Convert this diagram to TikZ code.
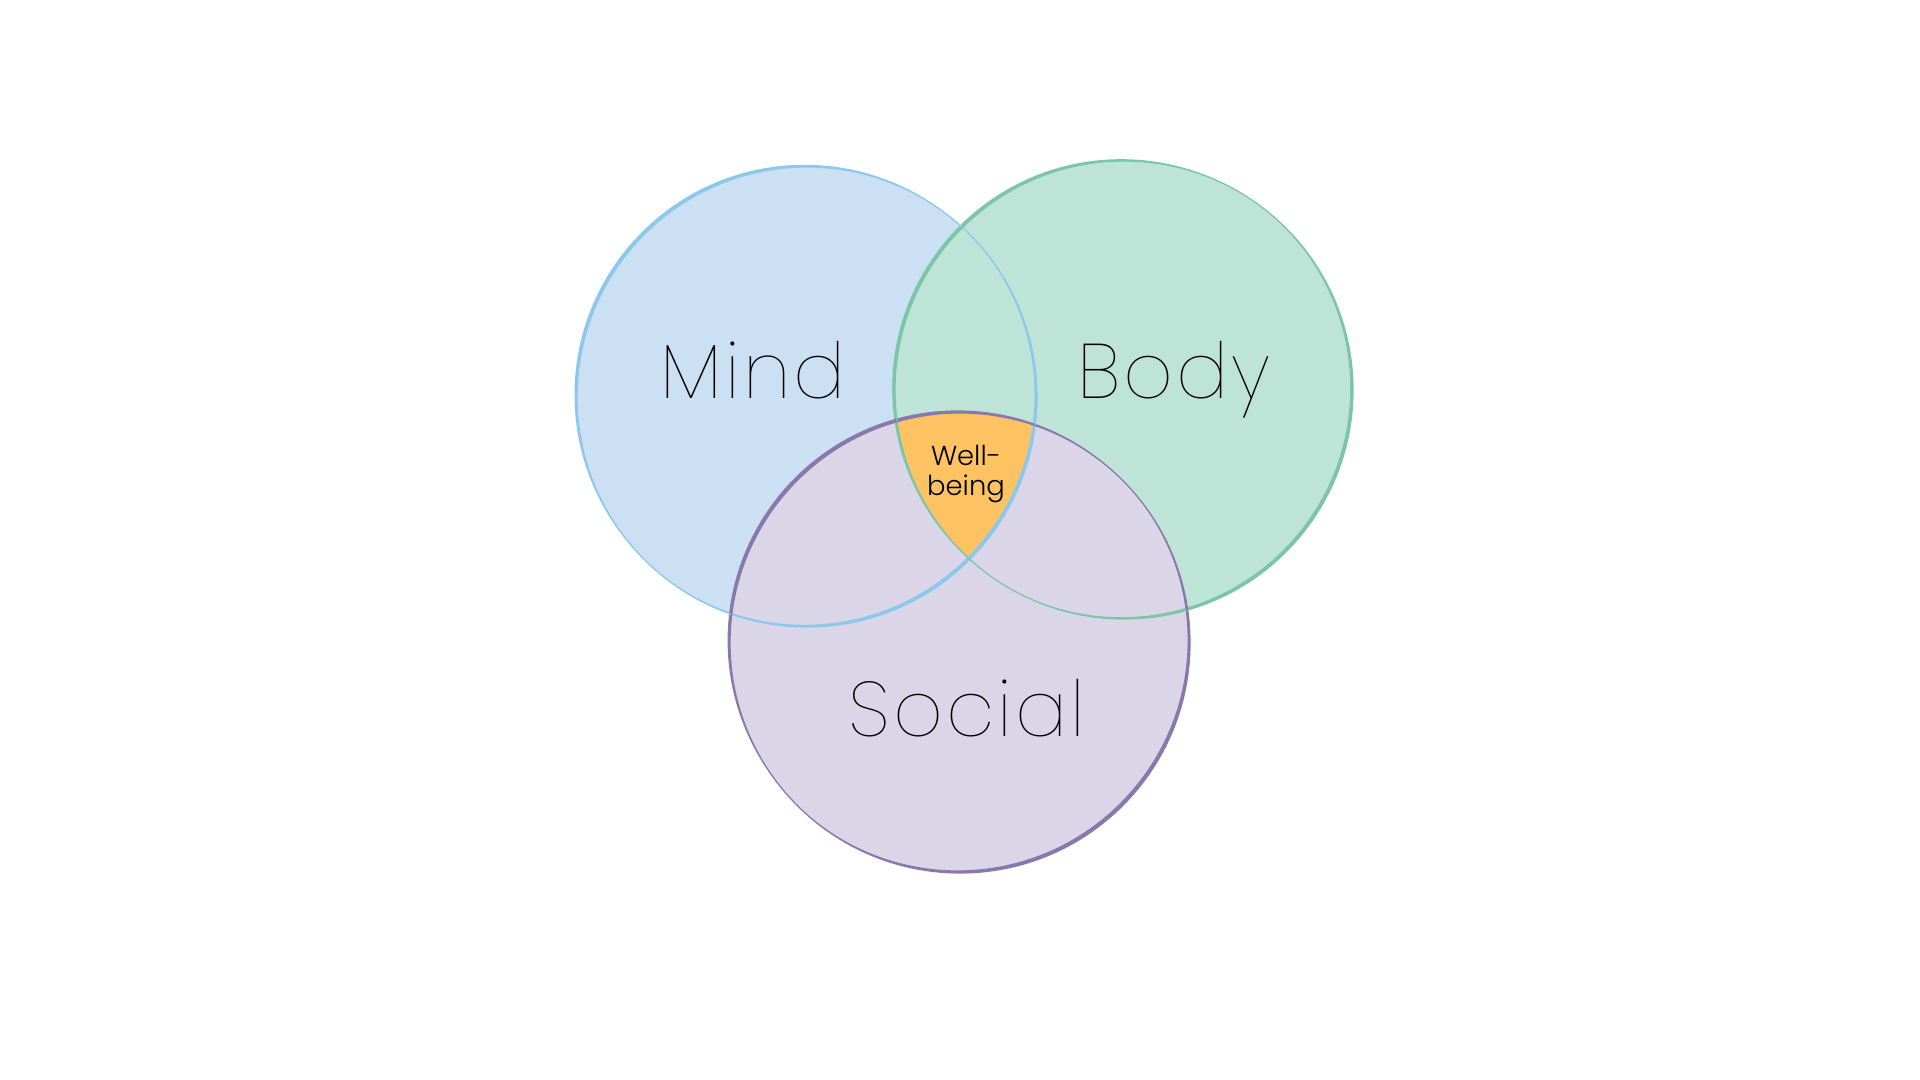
\documentclass[tikz,border=0pt]{standalone}
\usepackage{fontspec}
\setmainfont{Poppins}
\newfontfamily\thinfont{Poppins Thin}[LetterSpace=4]
\newfontfamily\lightfont{Poppins Light}
\definecolor{mindfill}{HTML}{CBE0F3}
\definecolor{mindline}{HTML}{8DC8EC}
\definecolor{bodyfill}{HTML}{BEE4D8}
\definecolor{bodyline}{HTML}{7BC6A8}
\definecolor{socialfill}{HTML}{DBD5E8}
\definecolor{socialline}{HTML}{8878AC}
\definecolor{wellfill}{HTML}{FDC363}

\begin{document}
\begin{tikzpicture}[
            biglabel/.style={anchor=base,font=\thinfont\fontsize{22}{26}\selectfont},
            ring/.style={line width=0.35pt},
            sketch/.style={even odd rule}]
            \useasboundingbox (0,0) rectangle (19.2,10.8);
            \coordinate (mc) at (8.07,6.83);
            \coordinate (bc) at (11.24,6.90);
            \coordinate (sc) at (9.60,4.37);
            \fill[mindfill] (mc) circle (2.30);
            \fill[bodyfill] (bc) circle (2.29);
            \fill[socialfill] (sc) circle (2.30);
            \begin{scope}
                \clip (mc) circle (2.30);
                \clip (bc) circle (2.29);
                \fill[wellfill] (sc) circle (2.30);
            \end{scope}
            % hand drawn edges
            \fill[sketch,mindline] (mc) circle (2.30) ([shift={(-0.025,0.022)}]mc) circle (2.30);
            \fill[sketch,bodyline] (bc) circle (2.29) ([shift={(-0.028,0.018)}]bc) circle (2.29);
            \fill[sketch,socialline] (sc) circle (2.30) ([shift={(-0.024,0.026)}]sc) circle (2.30);
            \draw[ring,mindline] (mc) circle (2.30);
            \draw[ring,bodyline] (bc) circle (2.29);
            \draw[ring,socialline] (sc) circle (2.30);
            \node[biglabel] (mind) at (7.53,6.81) {Mind};
            \node[biglabel] (body) at (11.74,6.81) {Body};
            \node[biglabel] (social) at (9.67,3.43) {Social};
            \node[align=center,font=\lightfont\fontsize{7.8}{8.6}\selectfont] (wellbeing) at (9.66,6.06) {Well-\\being};
        \end{tikzpicture}
\end{document}
